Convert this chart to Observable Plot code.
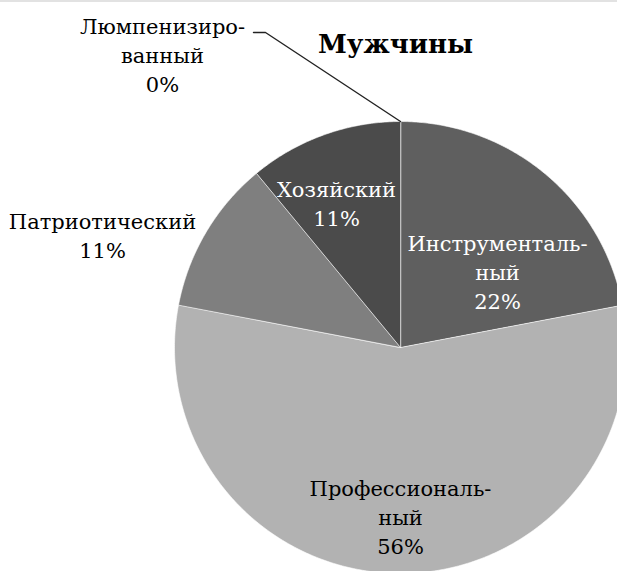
<!DOCTYPE html>
<html>
<head>
<meta charset="utf-8">
<script src="https://cdn.jsdelivr.net/npm/d3@7"></script>
<script src="https://cdn.jsdelivr.net/npm/@observablehq/plot@0.6"></script>
<style>
  html, body { margin: 0; padding: 0; background: #fff; }
  #chart svg { display: block; }
</style>
</head>
<body>
<div id="chart"></div>
<script>
// ---- data ----
const title = "Мужчины";
const categories = ["Инструментальный", "Профессиональный", "Патриотический", "Хозяйский", "Люмпенизированный"];
const labelText = ["Инструменталь-\nный", "Профессиональ-\nный", "Патриотический", "Хозяйский", "Люмпенизиро-\nванный"];
const values = [22, 56, 11, 11, 0];

// ---- styles / layout ----
const colors = ["#5f5f5f", "#b2b2b2", "#7f7f7f", "#4b4b4b", "#999999"];
const textColors = ["#ffffff", "#000000", "#000000", "#ffffff", "#000000"];
const W = 617, H = 571, CX = 400, CY = 347, R = 226;
const FONT = "DejaVu Serif";
// label anchor (last-line baseline) offsets from pie centre, in px
const labelOffsets = [[97, -39], [0, 206], [-298, -90], [-64, -122], [-238, -256]];

const total = d3.sum(values);
const pie = d3.pie().sort(null).value(d => d)(values);

const polys = [];
pie.forEach((p, i) => {
  if (p.endAngle - p.startAngle <= 0) return;
  const n = Math.max(2, Math.ceil((p.endAngle - p.startAngle) / 0.01));
  polys.push({name: categories[i], x: 0, y: 0});
  for (let k = 0; k <= n; k++) {
    const a = p.startAngle + (p.endAngle - p.startAngle) * k / n;
    polys.push({name: categories[i], x: Math.sin(a), y: Math.cos(a)});
  }
});

const labels = categories.map((c, i) => ({
  name: c,
  text: labelText[i] + "\n" + Math.round(values[i] / total * 100) + "%",
  x: labelOffsets[i][0] / R,
  y: -labelOffsets[i][1] / R,
  color: textColors[i]
}));

const zeroIdx = values.findIndex(v => v === 0);
const za = pie[zeroIdx].startAngle;
const leader = [
  {x: -147 / R, y: 315 / R},
  {x: -135 / R, y: 315 / R},
  {x: Math.sin(za), y: Math.cos(za)}
];

const chart = Plot.plot({
  width: W,
  height: H,
  margin: 0,
  x: {domain: [-CX / R, (W - CX) / R], axis: null},
  y: {domain: [-(H - CY) / R, CY / R], axis: null},
  color: {domain: categories, range: colors},
  style: {fontFamily: FONT, background: "#fff"},
  marks: [
    Plot.frame({anchor: "top", stroke: "#e2e2e2", strokeWidth: 3}),
    Plot.line(polys, {x: "x", y: "y", z: "name", fill: "name", stroke: "#ffffff", strokeWidth: 0.6, curve: "linear-closed", clip: "frame"}),
    Plot.line(leader, {x: "x", y: "y", stroke: "#222222", strokeWidth: 1.4}),
    Plot.text(labels, {x: "x", y: "y", text: "text", fill: "color", fontFamily: FONT, fontSize: 21, lineHeight: 1.38, lineAnchor: "bottom", textAnchor: "middle"}),
    Plot.text([title], {x: () => -5 / R, y: () => 295 / R, text: d => d, fontFamily: FONT, fontSize: 26, fontWeight: "bold", lineAnchor: "bottom", fill: "#000"})
  ]
});
document.getElementById("chart").appendChild(chart);
</script>
</body>
</html>
